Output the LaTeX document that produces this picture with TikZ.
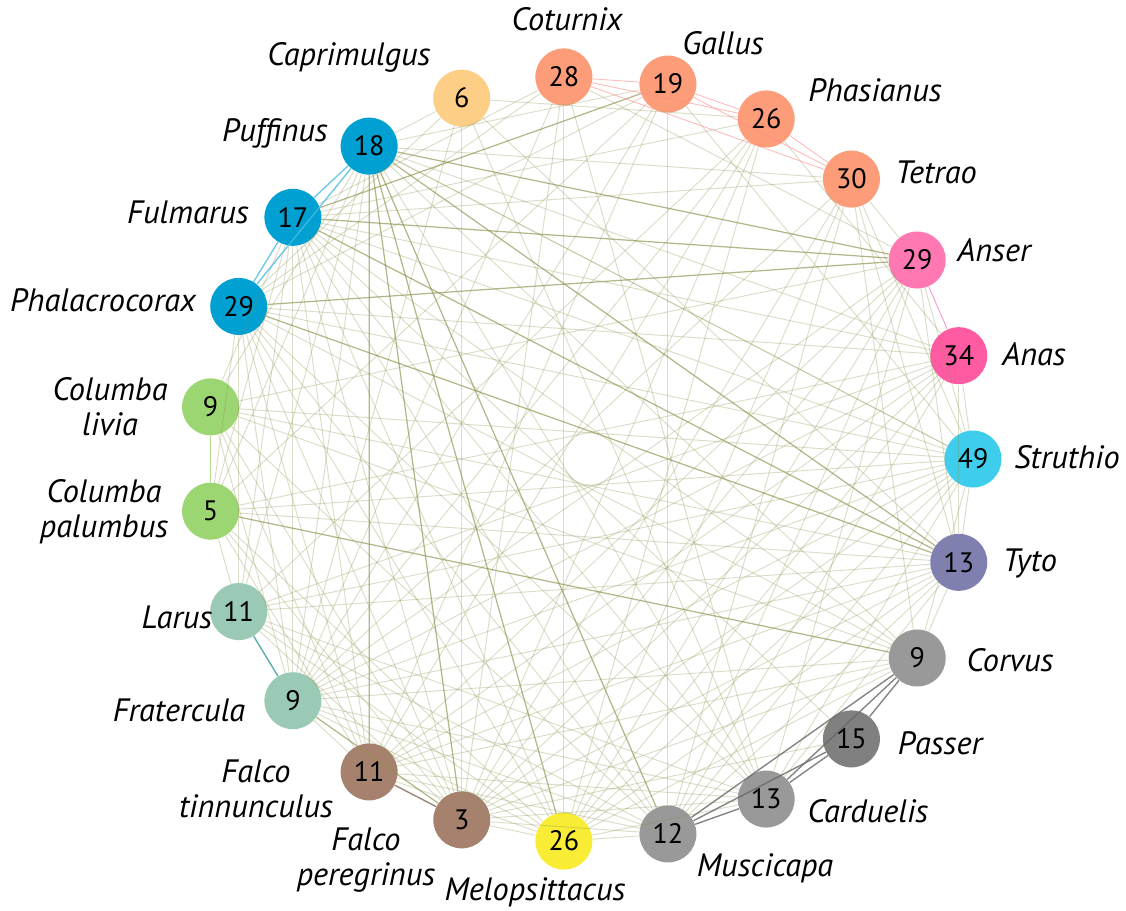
\documentclass[tikz,border=0pt]{standalone}
\usepackage{fontspec}
\setmainfont{PT Sans}
\usepackage{tikz}
\usetikzlibrary{positioning}
\definecolor{capC}{HTML}{FDCE85}
\definecolor{galloC}{HTML}{FC9C78}
\definecolor{seaC}{HTML}{00A0D2}
\definecolor{pigeonC}{HTML}{9CD672}
\definecolor{gullC}{HTML}{9ACAB5}
\definecolor{falconC}{HTML}{A6826E}
\definecolor{parrotC}{HTML}{F8EC35}
\definecolor{songC}{HTML}{999999}
\definecolor{sparrowC}{HTML}{808080}
\definecolor{owlC}{HTML}{7F80B0}
\definecolor{ostrichC}{HTML}{3ECDEC}
\definecolor{duckC}{HTML}{FF5BA2}
\definecolor{gooseC}{HTML}{FF78B2}
\definecolor{linkC}{HTML}{8C8F4A}
\tikzset{
  bird/.style={circle, minimum size=1.14cm, inner sep=0pt, font=\fontsize{16}{16}\selectfont},
  birdname/.style={font=\fontsize{18.4}{20}\selectfont\itshape, align=center},
  link/.style={draw=linkC, line width=0.55pt, draw opacity=0.3},
  strong/.style={draw=linkC, line width=0.7pt, draw opacity=0.65},
  grouplink/.style={line width=0.8pt, draw opacity=0.8},
}

\begin{document}
\begin{tikzpicture}
\useasboundingbox (-11.8,-9.02) rectangle (10.72,9.18);

% birds on the ring
\foreach \n/\i/\v/\c in {stru/0/49/ostrichC, anas/1/34/duckC, anse/2/29/gooseC,
    tetr/3/30/galloC, phas/4/26/galloC, gall/5/19/galloC, cotu/6/28/galloC,
    capr/7/6/capC, puff/8/18/seaC, fulm/9/17/seaC, phal/10/29/seaC,
    cliv/11/9/pigeonC, cpal/12/5/pigeonC, laru/13/11/gullC, frat/14/9/gullC,
    ftin/15/11/falconC, fper/16/3/falconC, melo/17/26/parrotC, musc/18/12/songC,
    card/19/13/songC, pass/20/15/sparrowC, corv/21/9/songC, tyto/22/13/owlC}
  \node[bird, fill=\c] (\n) at ({\i*360/23}:7.66) {\v};

% names
\node[birdname] (lcapr) at (-4.82,8.04) {Caprimulgus};
\node[birdname] (lcotu) at (-0.46,8.80) {Coturnix};
\node[birdname] (lgall) at (2.66,8.32) {Gallus};
\node[birdname] (lphas) at (5.70,7.38) {Phasianus};
\node[birdname] (ltetr) at (6.92,5.74) {Tetrao};
\node[birdname] (lanse) at (8.08,4.18) {Anser};
\node[birdname] (lanas) at (8.88,2.10) {Anas};
\node[birdname] (lstru) at (9.54,0.04) {Struthio};
\node[birdname] (ltyto) at (8.80,-2.08) {Tyto};
\node[birdname] (lcorv) at (8.40,-4.02) {Corvus};
\node[birdname] (lpass) at (7.00,-5.68) {Passer};
\node[birdname] (lcard) at (5.56,-7.04) {Carduelis};
\node[birdname] (lmusc) at (3.50,-8.18) {Muscicapa};
\node[birdname] (lmelo) at (-1.10,-8.66) {Melopsittacus};
\node[birdname] (lfper) at (-4.48,-8.02) {Falco\\peregrinus};
\node[birdname] (lftin) at (-6.68,-6.60) {Falco\\tinnunculus};
\node[birdname] (lfrat) at (-8.22,-5.02) {Fratercula};
\node[birdname] (llaru) at (-8.26,-3.16) {Larus};
\node[birdname] (lcpal) at (-9.72,-1.06) {Columba\\palumbus};
\node[birdname] (lcliv) at (-9.60,1.04) {Columba\\livia};
\node[birdname] (lphal) at (-9.74,3.18) {Phalacrocorax};
\node[birdname] (lfulm) at (-8.04,4.94) {Fulmarus};
\node[birdname] (lpuff) at (-6.30,6.52) {Puffinus};

% faint links
\foreach \a/\b in {stru/anse, stru/tetr, stru/fulm, stru/puff, stru/phal, stru/cliv,
    stru/laru, stru/frat, stru/ftin, stru/fper, stru/melo, stru/musc, stru/card,
    stru/corv, stru/gall, stru/tyto, stru/anas,
    anas/puff, anas/fulm, anas/phal, anas/cpal, anas/frat, anas/ftin, anas/fper,
    anas/melo, anas/musc, anas/tyto, anas/phas, anas/laru,
    anse/frat, anse/ftin, anse/fper, anse/melo, anse/musc, anse/card, anse/tyto,
    anse/tetr, anse/cotu, anse/cliv,
    tetr/puff, tetr/fulm, tetr/musc, tetr/melo, tetr/fper, tetr/frat, tetr/corv, tetr/tyto,
    phas/capr, phas/fulm, phas/fper, phas/ftin, phas/melo, phas/laru, phas/frat,
    gall/musc, gall/phal, gall/puff, gall/ftin, gall/frat, gall/cpal,
    cotu/fulm, cotu/phal, cotu/fper, cotu/card, cotu/frat, cotu/melo,
    capr/fper, capr/puff, capr/phal, capr/card, capr/tyto, capr/frat,
    puff/card, puff/corv, puff/stru, puff/cliv, puff/cpal, puff/laru, puff/frat,
    fulm/frat, fulm/cpal, fulm/laru, fulm/ftin, fulm/fper, fulm/melo, fulm/musc,
    fulm/card, fulm/pass, fulm/corv, fulm/cliv,
    phal/laru, phal/frat, phal/ftin, phal/fper, phal/melo, phal/musc, phal/card,
    phal/corv, phal/cpal,
    cliv/frat, cliv/ftin, cliv/fper, cliv/musc, cliv/tyto, cliv/corv,
    cpal/laru, cpal/ftin, cpal/fper, cpal/melo, cpal/tyto, cpal/stru,
    laru/tyto, laru/fper, laru/melo, laru/musc, laru/card,
    frat/ftin, frat/melo, frat/musc, frat/card, frat/corv, frat/tyto,
    ftin/melo, ftin/musc, ftin/card, ftin/tyto, ftin/corv,
    fper/melo, fper/musc, fper/card, fper/pass, fper/tyto, fper/corv,
    melo/musc, melo/card, melo/tyto, melo/corv,
    musc/tyto, card/tyto, tyto/corv}
  \draw[link] (\a) -- (\b);

% stronger links
\foreach \a/\b in {fulm/gall, fulm/tyto, phal/tyto, cpal/corv, puff/fper, puff/melo,
    puff/musc, puff/ftin, puff/anse, fulm/anse, phal/anse, frat/fper, puff/tyto}
  \draw[strong] (\a) -- (\b);

% links inside groups
\foreach \a/\b in {puff/fulm, puff/phal, fulm/phal}
  \draw[grouplink, seaC!70] (\a) -- (\b);
\foreach \a/\b in {cotu/gall, cotu/phas, cotu/tetr, gall/phas, gall/tetr, phas/tetr}
  \draw[grouplink, red!45, line width=0.5pt, draw opacity=0.6] (\a) -- (\b);
\foreach \a/\b in {corv/pass, corv/card, corv/musc, pass/card, pass/musc, card/musc}
  \draw[grouplink, black!60] (\a) -- (\b);
\draw[grouplink, pigeonC] (cliv) -- (cpal);
\draw[grouplink, teal!80] (laru) -- (frat);
\draw[grouplink, falconC!80!black] (ftin) -- (fper);
\draw[grouplink, magenta!50, line width=0.5pt] (anse) -- (anas);
\end{tikzpicture}
\end{document}
